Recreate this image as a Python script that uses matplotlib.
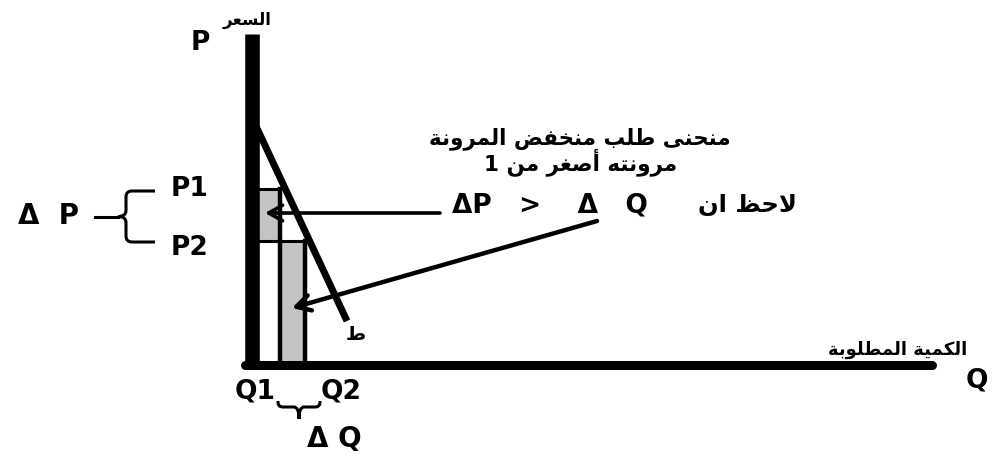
import matplotlib
matplotlib.use("Agg")
import matplotlib.pyplot as plt
from matplotlib.patches import Rectangle, PathPatch
from matplotlib.path import Path

# ---- data (quantity / price units) ----
quantities = [2.85, 5.35]          # Q1, Q2
prices = [17.6, 12.4]              # P1, P2
demand_q = [0.3, 9.5]              # demand curve end points
demand_p = [24.1, 4.4]
q_labels = ["Q1", "Q2"]
p_labels = ["P1", "P2"]

# ---- minimal Arabic shaping (presentation forms + visual order) ----
FORMS = {
    'ا': (0xFE8D, 0xFE8E, None, None), 'أ': (0xFE83, 0xFE84, None, None),
    'ب': (0xFE8F, 0xFE90, 0xFE91, 0xFE92), 'ة': (0xFE93, 0xFE94, None, None),
    'ت': (0xFE95, 0xFE96, 0xFE97, 0xFE98), 'ح': (0xFEA1, 0xFEA2, 0xFEA3, 0xFEA4),
    'خ': (0xFEA5, 0xFEA6, 0xFEA7, 0xFEA8), 'ر': (0xFEAD, 0xFEAE, None, None),
    'س': (0xFEB1, 0xFEB2, 0xFEB3, 0xFEB4), 'ص': (0xFEB9, 0xFEBA, 0xFEBB, 0xFEBC),
    'ض': (0xFEBD, 0xFEBE, 0xFEBF, 0xFEC0), 'ط': (0xFEC1, 0xFEC2, 0xFEC3, 0xFEC4),
    'ظ': (0xFEC5, 0xFEC6, 0xFEC7, 0xFEC8), 'ع': (0xFEC9, 0xFECA, 0xFECB, 0xFECC),
    'غ': (0xFECD, 0xFECE, 0xFECF, 0xFED0), 'ف': (0xFED1, 0xFED2, 0xFED3, 0xFED4),
    'ك': (0xFED9, 0xFEDA, 0xFEDB, 0xFEDC), 'ل': (0xFEDD, 0xFEDE, 0xFEDF, 0xFEE0),
    'م': (0xFEE1, 0xFEE2, 0xFEE3, 0xFEE4), 'ن': (0xFEE5, 0xFEE6, 0xFEE7, 0xFEE8),
    'ه': (0xFEE9, 0xFEEA, 0xFEEB, 0xFEEC), 'و': (0xFEED, 0xFEEE, None, None),
    'ى': (0xFEEF, 0xFEF0, None, None), 'ي': (0xFEF1, 0xFEF2, 0xFEF3, 0xFEF4),
}
LAM_ALEF = {'ا': (0xFEFB, 0xFEFC), 'أ': (0xFEF7, 0xFEF8)}


def shape(text):
    chars = list(text)
    out = []
    prev_joins = False
    i = 0
    while i < len(chars):
        c = chars[i]
        if c not in FORMS:
            out.append(c)
            prev_joins = False
            i += 1
            continue
        if c == 'ل' and i + 1 < len(chars) and chars[i + 1] in LAM_ALEF:
            iso, fin = LAM_ALEF[chars[i + 1]]
            out.append(chr(fin if prev_joins else iso))
            prev_joins = False
            i += 2
            continue
        nxt = chars[i + 1] if i + 1 < len(chars) else None
        iso, fin, ini, med = FORMS[c]
        next_joins = ini is not None and nxt in FORMS
        if prev_joins and next_joins:
            f = med
        elif prev_joins:
            f = fin
        elif next_joins:
            f = ini
        else:
            f = iso
        out.append(chr(f))
        prev_joins = next_joins
        i += 1
    return ''.join(reversed(out))


plt.rcParams['font.family'] = ['DejaVu Sans']
plt.rcParams['font.weight'] = 'bold'

fig = plt.figure(figsize=(10.06, 4.56), dpi=100)
ax = fig.add_axes([0, 0, 1, 1])
ax.set_xlim(-25.2, 75.4)
ax.set_ylim(-9.0, 36.6)
ax.axis('off')

Q1, Q2 = quantities
P1, P2 = prices
grey = '#c4c4c4'

# shaded areas
ax.add_patch(Rectangle((0, P2), Q1, P1 - P2, facecolor=grey, edgecolor='none', zorder=1))
ax.add_patch(Rectangle((Q1, 0), Q2 - Q1, P2, facecolor=grey, edgecolor='none', zorder=1))

# rectangle outlines for (Q1, P1) and (Q2, P2)
ax.plot([0, Q1], [P1, P1], color='black', lw=2.2, zorder=2)
ax.plot([Q1, Q1], [P1, 0], color='black', lw=3.2, zorder=2)
ax.plot([0, Q2], [P2, P2], color='black', lw=2.2, zorder=2)
ax.plot([Q2, Q2], [P2, 0], color='black', lw=3.2, zorder=2)

# demand curve
ax.plot(demand_q, demand_p, color='black', lw=5, solid_capstyle='butt', zorder=3)

# axes lines
ax.plot([0, 0], [-0.4, 33.1], color='black', lw=10.5, solid_capstyle='butt', zorder=4)
ax.plot([-0.7, 68.0], [0, 0], color='black', lw=6.5, solid_capstyle='round', zorder=4)

# arrows pointing at the shaded areas
arrow_style = dict(arrowstyle='->,head_length=0.5,head_width=0.28', lw=2.6,
                   color='black', shrinkA=0, shrinkB=0, mutation_scale=20)
ax.annotate('', xy=(1.3, 15.2), xytext=(18.8, 15.2), arrowprops=arrow_style, zorder=5)
arrow_style2 = dict(arrow_style, lw=3.2)
ax.annotate('', xy=(4.0, 5.7), xytext=(34.5, 14.4), arrowprops=arrow_style2, zorder=5)

# axis labels
ax.text(-5.2, 32.3, 'P', fontsize=19, ha='center', va='center')
ax.text(-0.5, 34.6, shape('السعر'), fontsize=12, ha='center', va='center')
ax.text(72.5, -1.5, 'Q', fontsize=19, ha='center', va='center')
ax.text(64.6, 1.6, shape('الكمية المطلوبة'), fontsize=13, ha='center', va='center')

# price and quantity level labels
for lab, p in zip(p_labels, prices):
    ax.text(-6.2, p + (0.1 if p == P1 else -0.6), lab, fontsize=19, ha='center', va='center')
for lab, q in zip(q_labels, quantities):
    ax.text(q - 2.5 if q == Q1 else q + 3.6, -2.6, lab, fontsize=19, ha='center', va='center')

ax.text(10.4, 3.1, shape('ط'), fontsize=14, ha='center', va='center')


# braces
def left_brace(x_arm, x_spine, x_tip, y_top, y_bot, r=0.6):
    y_mid = (y_top + y_bot) / 2
    verts = [(x_arm, y_top), (x_spine + r, y_top), (x_spine, y_top), (x_spine, y_top - r),
             (x_spine, y_mid + r), (x_spine, y_mid), (x_tip, y_mid),
             (x_spine, y_mid), (x_spine, y_mid - r),
             (x_spine, y_bot + r), (x_spine, y_bot), (x_spine + r, y_bot), (x_arm, y_bot)]
    codes = [Path.MOVETO, Path.LINETO, Path.CURVE3, Path.CURVE3,
             Path.LINETO, Path.CURVE3, Path.CURVE3,
             Path.CURVE3, Path.CURVE3,
             Path.LINETO, Path.CURVE3, Path.CURVE3, Path.LINETO]
    return Path(verts, codes)


def bottom_brace(x_left, x_right, y_arm, y_spine, y_tip, r=0.5):
    x_mid = (x_left + x_right) / 2
    verts = [(x_left, y_arm), (x_left, y_spine + r), (x_left, y_spine), (x_left + r, y_spine),
             (x_mid - r, y_spine), (x_mid, y_spine), (x_mid, y_tip),
             (x_mid, y_spine), (x_mid + r, y_spine),
             (x_right - r, y_spine), (x_right, y_spine), (x_right, y_spine + r), (x_right, y_arm)]
    codes = [Path.MOVETO, Path.LINETO, Path.CURVE3, Path.CURVE3,
             Path.LINETO, Path.CURVE3, Path.CURVE3,
             Path.CURVE3, Path.CURVE3,
             Path.LINETO, Path.CURVE3, Path.CURVE3, Path.LINETO]
    return Path(verts, codes)


ax.add_patch(PathPatch(left_brace(-9.7, -12.6, -13.4, 17.4, 12.3),
                       facecolor='none', edgecolor='black', lw=2.2))
ax.plot([-15.7, -13.4], [14.85, 14.85], color='black', lw=2.2)
ax.text(-20.4, 15.0, 'Δ  P', fontsize=20, ha='center', va='center')

ax.add_patch(PathPatch(bottom_brace(2.6, 6.8, -3.6, -4.2, -5.4),
                       facecolor='none', edgecolor='black', lw=2.2))
ax.text(8.2, -7.3, 'Δ Q', fontsize=20, ha='center', va='center')

# annotations
ax.text(32.8, 22.7, shape('منحنى طلب منخفض المرونة'), fontsize=15.5, ha='center', va='center')
ax.text(32.9, 20.4, shape('مرونته أصغر من 1'), fontsize=15.5, ha='center', va='center')
ax.text(20.0, 16.0, 'ΔP   >    Δ   Q', fontsize=19, ha='left', va='center')
ax.text(49.6, 16.1, shape('لاحظ ان'), fontsize=17.5, ha='center', va='center')

fig.savefig('out.png', dpi=100, facecolor='white')
